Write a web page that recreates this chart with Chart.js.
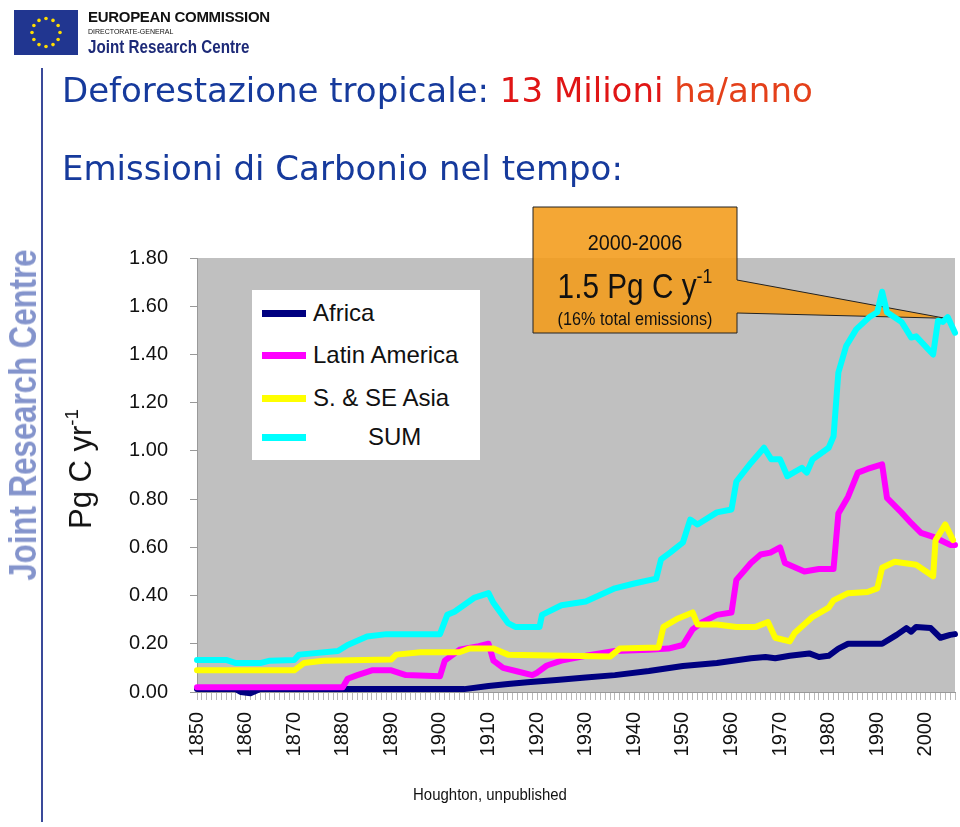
<!DOCTYPE html>
<html>
<head>
<meta charset="utf-8">
<script src="https://cdn.jsdelivr.net/npm/chart.js@4.4.0/dist/chart.umd.min.js"></script>
<style>
  body { margin:0; width:960px; height:827px; background:#fff; position:relative; overflow:hidden;
         font-family:"Liberation Sans", Arial, sans-serif; color:#111; }
  .abs { position:absolute; white-space:nowrap; }
  #chart { position:absolute; left:0; top:0; }
  .title { font-family:"DejaVu Sans", sans-serif; color:#163a9c; font-size:34px; }
  #legend { left:252px; top:290px; width:228px; height:170px; background:#fff; }
  #legend .row { position:absolute; left:0; width:228px; height:30px; }
  #legend .swatch { position:absolute; left:10px; top:12px; width:44px; height:7px; }
  #legend .lbl { position:absolute; left:61px; top:0; font-size:24px; line-height:30px; }
  sup { font-size:60%; vertical-align:top; position:relative; top:-2px; }
</style>
</head>
<body>
<canvas id="chart" width="960" height="827"></canvas>

<!-- slide decorations -->
<svg class="abs" style="left:14px;top:10px" width="64" height="45" id="flag">
  <rect width="64" height="45" fill="#213690"/>
</svg>
<div class="abs" style="left:88px;top:8px;font-size:15px;font-weight:bold;letter-spacing:-0.3px">EUROPEAN COMMISSION</div>
<div class="abs" style="left:88px;top:28px;font-size:7px">DIRECTORATE-GENERAL</div>
<div class="abs" style="left:88px;top:36px;font-size:19px;font-weight:bold;color:#1d2a78;transform-origin:left top;transform:scaleX(0.8)">Joint Research Centre</div>
<div class="abs" style="left:41px;top:68px;width:2px;height:754px;background:#3a4a9a"></div>
<div class="abs" style="left:23px;top:415px;font-size:39px;font-weight:bold;color:#8494cc;transform:translate(-50%,-50%) rotate(-90deg) scaleX(0.8)">Joint Research Centre</div>

<div class="abs title" style="left:62px;top:70px">Deforestazione tropicale: <span style="color:#e01515">13 Milioni</span> <span style="color:#e4401a">ha/anno</span></div>
<div class="abs title" style="left:62px;top:148px">Emissioni di Carbonio nel tempo:</div>

<!-- chart texts -->
<div class="abs" style="left:81px;top:469px;font-size:31px;transform:translate(-50%,-50%) rotate(-90deg)">Pg C yr<sup>-1</sup></div>
<div id="legend" class="abs"></div>
<div class="abs" style="left:635px;top:243px;font-size:22px;transform:translate(-50%,-50%) scaleX(0.9)">2000-2006</div>
<div class="abs" style="left:635px;top:286px;font-size:35px;transform:translate(-50%,-50%) scaleX(0.85)">1.5 Pg C y<sup>-1</sup></div>
<div class="abs" style="left:635px;top:319px;font-size:18px;transform:translate(-50%,-50%) scaleX(0.9)">(16% total emissions)</div>
<div class="abs" style="left:490px;top:795px;font-size:17px;transform:translate(-50%,-50%) scaleX(0.88)">Houghton, unpublished</div>

<script>
// series (years, Pg C per year)
const seriesNames = ['Africa', 'Latin America', 'S. & SE Asia', 'SUM'];
const seriesColors = ['#000080', '#ff00ff', '#ffff00', '#00ffff'];

const africaYears = [1850, 1858, 1859, 1861, 1863, 1905, 1910, 1914, 1918, 1924, 1930, 1936, 1943, 1950,
  1957, 1964, 1967, 1969, 1972, 1976, 1978, 1980, 1982, 1984, 1988, 1991, 1994, 1996, 1997, 1998,
  2001, 2003, 2005, 2006];
const africaValues = [0.012, 0.012, 0.0, -0.005, 0.012, 0.012, 0.025, 0.033, 0.04, 0.05, 0.06, 0.07, 0.087, 0.108,
  0.12, 0.14, 0.145, 0.14, 0.15, 0.16, 0.145, 0.15, 0.18, 0.2, 0.2, 0.2, 0.237, 0.265, 0.25, 0.27,
  0.265, 0.225, 0.237, 0.24];

const latamYears = [1850, 1880, 1881, 1883, 1886, 1890, 1893, 1900, 1901, 1904, 1908, 1910, 1911, 1913,
  1916, 1919, 1920, 1922, 1925, 1930, 1936, 1943, 1947, 1950, 1952, 1954, 1957, 1960, 1961, 1964,
  1966, 1968, 1970, 1971, 1975, 1978, 1981, 1982, 1984, 1986, 1988, 1991, 1992, 1995, 1997, 1999,
  2002, 2005, 2006];
const latamValues = [0.02, 0.02, 0.055, 0.07, 0.09, 0.09, 0.07, 0.065, 0.13, 0.175, 0.19, 0.2, 0.13, 0.1,
  0.085, 0.07, 0.08, 0.11, 0.13, 0.15, 0.17, 0.175, 0.18, 0.195, 0.26, 0.29, 0.32, 0.33, 0.465, 0.535,
  0.57, 0.578, 0.6, 0.535, 0.5, 0.51, 0.51, 0.74, 0.81, 0.91, 0.925, 0.944, 0.805, 0.744, 0.7, 0.66,
  0.64, 0.61, 0.61];

const asiaYears = [1850, 1870, 1872, 1876, 1890, 1891, 1896, 1904, 1906, 1911, 1914, 1926, 1935, 1937,
  1945, 1946, 1949, 1952, 1953, 1957, 1961, 1965, 1967.5, 1969, 1972, 1973, 1976.6, 1980, 1981, 1984,
  1988, 1990, 1991, 1993.6, 1998, 2001.5, 2002, 2004, 2005.6];
const asiaValues = [0.09, 0.09, 0.12, 0.13, 0.135, 0.155, 0.165, 0.165, 0.18, 0.18, 0.155, 0.15, 0.147, 0.18,
  0.185, 0.27, 0.305, 0.33, 0.28, 0.28, 0.27, 0.27, 0.29, 0.225, 0.21, 0.245, 0.31, 0.35, 0.38, 0.41,
  0.415, 0.43, 0.515, 0.54, 0.528, 0.48, 0.63, 0.695, 0.63];

const sumYears = [1850, 1856, 1858, 1863, 1865, 1870, 1871, 1879, 1881, 1885, 1889, 1900, 1901.5, 1903,
  1907, 1910, 1911, 1914, 1915.5, 1920.5, 1921, 1925, 1930, 1936, 1940, 1944.5, 1945.5, 1947.5, 1950,
  1951.5, 1953, 1957, 1960, 1961, 1964, 1966.7, 1968.2, 1970, 1971.5, 1974.5, 1975.5, 1976.7, 1980,
  1981, 1982, 1983.6, 1985.7, 1988.4, 1990, 1991, 1992, 1995, 1997, 1998, 2001.5, 2002.5, 2003.5,
  2004.5, 2006];
const sumValues = [0.133, 0.133, 0.12, 0.12, 0.13, 0.133, 0.155, 0.17, 0.195, 0.23, 0.24, 0.24, 0.32, 0.333,
  0.39, 0.41, 0.37, 0.286, 0.27, 0.27, 0.32, 0.36, 0.375, 0.43, 0.45, 0.47, 0.55, 0.58, 0.62,
  0.715, 0.695, 0.745, 0.757, 0.873, 0.95, 1.013, 0.965, 0.965, 0.895, 0.93, 0.91, 0.965, 1.013,
  1.06, 1.325, 1.435, 1.505, 1.555, 1.575, 1.66, 1.575, 1.535, 1.47, 1.475, 1.40, 1.54, 1.535,
  1.555, 1.49];

const yTicks = [0, 0.2, 0.4, 0.6, 0.8, 1.0, 1.2, 1.4, 1.6, 1.8];
const calloutTip = [2004, 1.55];

function pts(xs, ys) { return xs.map((x, i) => ({ x: x, y: ys[i] })); }

// EU flag stars
const flag = document.getElementById('flag');
for (let i = 0; i < 12; i++) {
  const a = i * Math.PI / 6;
  const c = document.createElementNS('http://www.w3.org/2000/svg', 'circle');
  c.setAttribute('cx', 32 + 14 * Math.cos(a));
  c.setAttribute('cy', 22.5 + 14 * Math.sin(a));
  c.setAttribute('r', 1.8);
  c.setAttribute('fill', '#ffdd00');
  flag.appendChild(c);
}

// legend
const legend = document.getElementById('legend');
const rowTops = [8, 50, 93, 132];
seriesNames.forEach(function(name, i) {
  const row = document.createElement('div');
  row.className = 'row';
  row.style.top = rowTops[i] + 'px';
  const sw = document.createElement('div');
  sw.className = 'swatch';
  sw.style.background = seriesColors[i];
  const lb = document.createElement('div');
  lb.className = 'lbl';
  lb.textContent = name;
  if (name === 'SUM') lb.style.left = '116px';
  row.appendChild(sw);
  row.appendChild(lb);
  legend.appendChild(row);
});

const plotBg = {
  id: 'plotBg',
  beforeDraw(chart) {
    const a = chart.chartArea, c = chart.ctx;
    c.save();
    c.fillStyle = '#c0c0c0';
    c.fillRect(a.left, a.top, a.right - a.left, a.bottom - a.top);
    c.restore();
  }
};

const callout = {
  id: 'callout',
  beforeDatasetsDraw(chart) {
    const c = chart.ctx;
    const tx = chart.scales.x.getPixelForValue(calloutTip[0]);
    const ty = chart.scales.y.getPixelForValue(calloutTip[1]);
    c.save();
    c.beginPath();
    c.moveTo(533, 207); c.lineTo(737, 207); c.lineTo(737, 280);
    c.lineTo(tx, ty); c.lineTo(737, 313); c.lineTo(737, 333);
    c.lineTo(533, 333); c.closePath();
    c.fillStyle = 'rgba(242,155,25,0.88)';
    c.fill();
    c.strokeStyle = '#222';
    c.lineWidth = 1;
    c.stroke();
    c.restore();
  }
};

const ctx = document.getElementById('chart').getContext('2d');
const seriesData = [pts(africaYears, africaValues), pts(latamYears, latamValues),
                    pts(asiaYears, asiaValues), pts(sumYears, sumValues)];

new Chart(ctx, {
  type: 'line',
  data: {
    datasets: seriesNames.map(function(name, i) {
      return {
        label: name,
        data: seriesData[i],
        borderColor: seriesColors[i],
        backgroundColor: seriesColors[i],
        borderWidth: 6,
        pointRadius: 0,
        tension: 0,
        borderJoinStyle: 'round',
        borderCapStyle: 'round',
        clip: false,
        order: 4 - i
      };
    })
  },
  options: {
    responsive: false,
    animation: false,
    devicePixelRatio: 1,
    layout: { padding: { left: 100, top: 258, right: 5, bottom: 55 } },
    plugins: { legend: { display: false }, tooltip: { enabled: false } },
    scales: {
      x: {
        type: 'linear',
        min: 1850,
        max: 2006,
        afterBuildTicks: function(scale) {
          const t = [];
          for (let y = 1850; y <= 2006; y++) t.push({ value: y });
          scale.ticks = t;
        },
        afterFit: function(scale) {
          scale.height = 80;
          scale.paddingLeft = 0;
          scale.paddingRight = 0;
        },
        grid: { drawOnChartArea: false, tickLength: 8, color: '#b8b8b8' },
        border: { color: '#999' },
        ticks: {
          autoSkip: false,
          minRotation: 90,
          maxRotation: 90,
          padding: 12,
          color: '#111',
          font: { family: 'Liberation Sans', size: 20 },
          callback: function(v) { return v % 10 === 0 ? String(v) : ''; }
        }
      },
      y: {
        min: 0,
        max: 1.8,
        afterBuildTicks: function(scale) { scale.ticks = yTicks.map(v => ({ value: v })); },
        afterFit: function(scale) { scale.width = 97; },
        grid: { drawOnChartArea: false, tickLength: 7, color: '#999' },
        border: { color: '#999' },
        ticks: {
          padding: 22,
          color: '#111',
          font: { family: 'Liberation Sans', size: 20 },
          callback: function(v) { return v.toFixed(2); }
        }
      }
    }
  },
  plugins: [plotBg, callout]
});
</script>
</body>
</html>
